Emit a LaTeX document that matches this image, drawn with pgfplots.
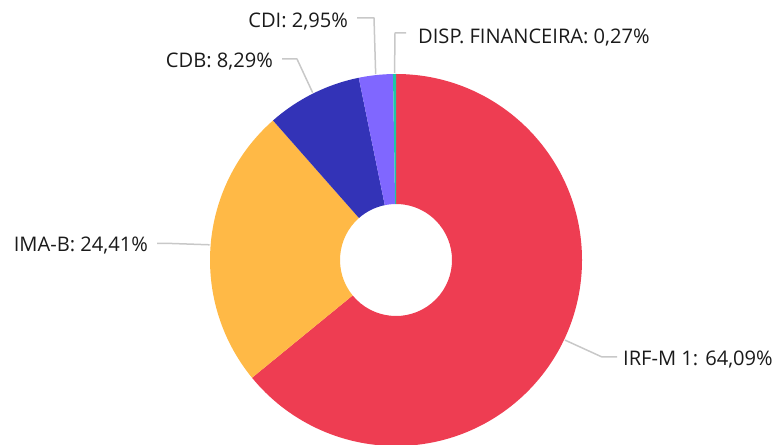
\documentclass[border=0pt]{standalone}
\usepackage{pgfplots}
\pgfplotsset{compat=1.18}
\usepackage{pgfplotstable}
\usepackage{fontspec}
\setmainfont{Open Sans}
\definecolor{cRed}{HTML}{EE3D52}
\definecolor{cYellow}{HTML}{FFB946}
\definecolor{cBlue}{HTML}{3333B7}
\definecolor{cPurple}{HTML}{8067FF}
\definecolor{cTeal}{HTML}{1CC7A6}
\definecolor{cLead}{HTML}{C8C8C8}
\definecolor{cText}{HTML}{1A1A1A}
\tikzset{lab/.style={font=\fontsize{20.1}{24}\selectfont,text=cText,inner sep=0pt},
  leader/.style={draw=cLead,line width=1.5pt,line join=round}}
\pgfplotstableread[col sep=comma]{
name,pct,col
IRF-M 1,64.09,cRed
IMA-B,24.41,cYellow
CDB,8.29,cBlue
CDI,2.95,cPurple
DISP. FINANCEIRA,0.27,cTeal
}\piedata
\begin{document}
\begin{tikzpicture}
\gdef\cum{90}
\foreach \i in {0,...,4}{%
  \pgfplotstablegetelem{\i}{pct}\of\piedata
  \pgfmathsetmacro{\b}{\cum-3.6*\pgfplotsretval}%
  \pgfmathsetmacro{\m}{(\cum+\b)/2}%
  \expandafter\xdef\csname sA\i\endcsname{\cum}%
  \expandafter\xdef\csname sB\i\endcsname{\b}%
  \expandafter\xdef\csname sM\i\endcsname{\m}%
  \pgfplotstablegetelem{\i}{col}\of\piedata
  \expandafter\xdef\csname sC\i\endcsname{\pgfplotsretval}%
  \xdef\cum{\b}%
}
\begin{axis}[x=1pt,y=1pt,xmin=0,xmax=775,ymin=0,ymax=444,hide axis,clip=true]
\pgfplotsinvokeforeach{0,...,4}{%
  \edef\temp{\noexpand\fill[\csname sC#1\endcsname,shift={(axis cs:396,184)}]
    (\csname sA#1\endcsname:186) arc[start angle=\csname sA#1\endcsname,end angle=\csname sB#1\endcsname,radius=186]
    -- (\csname sB#1\endcsname:56) arc[start angle=\csname sB#1\endcsname,end angle=\csname sA#1\endcsname,radius=56] -- cycle;}%
  \temp
}
\edef\temp{\noexpand\draw[leader] ([shift={(axis cs:396,184)}]\csname sM0\endcsname:187) -- (axis cs:602,87) -- (axis cs:617,87);}\temp
\edef\temp{\noexpand\draw[leader] ([shift={(axis cs:396,184)}]\csname sM1\endcsname:187) -- (axis cs:172,200.5) -- (axis cs:157,200.5);}\temp
\edef\temp{\noexpand\draw[leader] ([shift={(axis cs:396,184)}]\csname sM2\endcsname:187) -- (axis cs:297,385) -- (axis cs:282,385);}\temp
\edef\temp{\noexpand\draw[leader] ([shift={(axis cs:396,184)}]\csname sM3\endcsname:187) -- (axis cs:374,426) -- (axis cs:357,426);}\temp
\edef\temp{\noexpand\draw[leader] ([shift={(axis cs:396,184)}]\csname sM4\endcsname:187) -- (axis cs:395,411) -- (axis cs:406,411);}\temp
\node[lab,anchor=base west] at (axis cs:623,78) {IRF-M 1: 64,09\%};
\node[lab,anchor=base east] at (axis cs:148,192) {IMA-B: 24,41\%};
\node[lab,anchor=base east] at (axis cs:273,376) {CDB: 8,29\%};
\node[lab,anchor=base east] at (axis cs:348,416) {CDI: 2,95\%};
\node[lab,anchor=base west] at (axis cs:418,400) {DISP. FINANCEIRA: 0,27\%};
\end{axis}
\pgfresetboundingbox
\path (0,0) rectangle (775pt,444pt);
\end{tikzpicture}
\end{document}
